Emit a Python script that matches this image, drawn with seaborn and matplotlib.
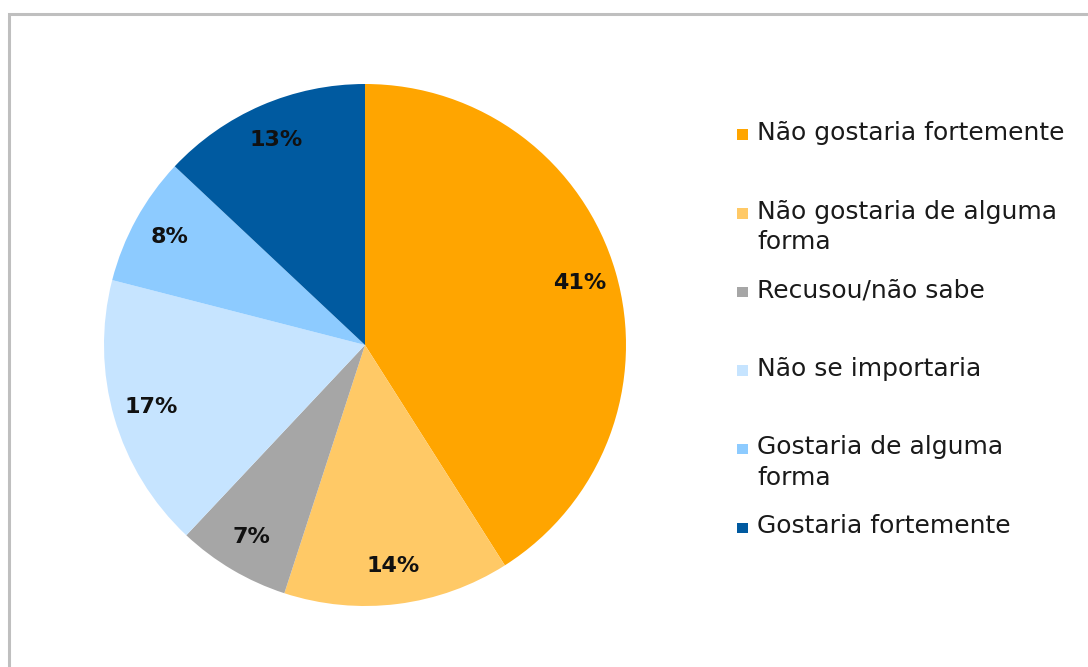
import matplotlib
matplotlib.use("Agg")
import matplotlib.pyplot as plt
from matplotlib.patches import Rectangle
import seaborn as sns

categories = [
    "Não gostaria fortemente",
    "Não gostaria de alguma\nforma",
    "Recusou/não sabe",
    "Não se importaria",
    "Gostaria de alguma\nforma",
    "Gostaria fortemente",
]
values = [41, 14, 7, 17, 8, 13]
colors = ["#FFA500", "#FFC966", "#A6A6A6", "#C6E4FF", "#8DCBFF", "#005AA0"]

sns.set_theme(style="white")
plt.rcParams["font.family"] = ["DejaVu Sans"]

W, H = 1088, 667
fig = plt.figure(figsize=(W / 100, H / 100), dpi=100)
fig.patch.set_facecolor("white")

# outer frame (gray border continuing past right/bottom edge)
fig.patches.append(Rectangle((8.5 / W, -0.05), 1.2, (H - 13.5) / H + 0.05,
                             transform=fig.transFigure, fill=False,
                             edgecolor="#BFBFBF", linewidth=2.2))

# pie axes: center (365,345), radius 261 px
cx, cy, r = 365, 345, 261
ax = fig.add_axes([(cx - r) / W, (H - cy - r) / H, 2 * r / W, 2 * r / H])
wedges, texts, autotexts = ax.pie(
    values, colors=colors, startangle=90, counterclock=False,
    autopct=lambda p: f"{p:.0f}%", pctdistance=0.855,
    wedgeprops=dict(linewidth=0),
    textprops=dict(fontsize=16, fontweight="bold", color="#111111"),
)
ax.set_xlim(-1, 1)
ax.set_ylim(-1, 1)
ax.set_aspect("equal")
ax.axis("off")
for w in wedges:
    w.set_clip_on(False)

# legend (manual, marker aligned with first line like the original)
x_mark, x_text = 737, 757
base0, step, line2 = 140, 78.6, 30.5
for i, (lab, col) in enumerate(zip(categories, colors)):
    yb = base0 + i * step
    fig.patches.append(Rectangle((x_mark / W, (H - yb) / H), 10.5 / W, 10.5 / H,
                                 transform=fig.transFigure, facecolor=col,
                                 edgecolor="none"))
    for j, line in enumerate(lab.split("\n")):
        fig.text(x_text / W, (H - (yb + j * line2)) / H, line,
                 fontsize=18, color="#1a1a1a", va="baseline", ha="left")

fig.savefig("out.png", dpi=100)
